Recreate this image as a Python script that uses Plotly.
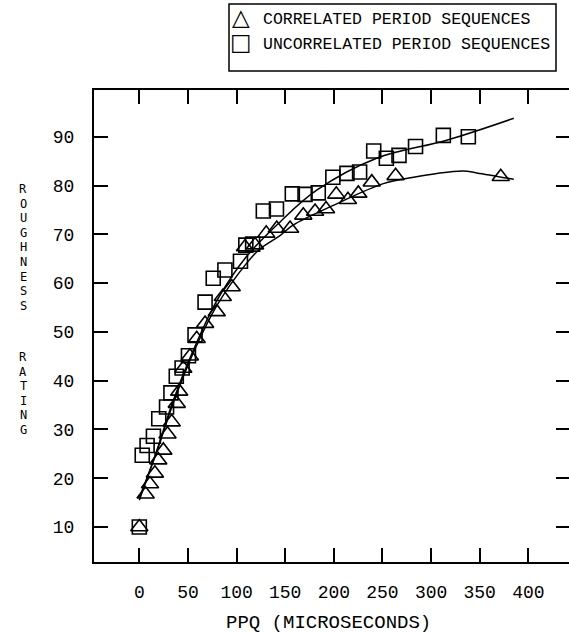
import plotly.graph_objects as go

# ---- data ----
corr_x = [0, 6.5, 11, 16, 19.5, 24.7, 29, 33.3, 38.5, 41, 45.2, 52, 59, 67.6, 79.6, 85.8, 95,
          108.7, 119, 130.5, 141.3, 155, 168.6, 180.7, 192, 202.5, 214.5, 225.2, 239, 263.5, 371.6]
corr_y = [10, 16.7, 18.8, 21, 23.7, 25.7, 29, 31.5, 35.3, 37.8, 42.5, 45, 48.6, 51.7, 54.1, 57.2, 59.2,
          67.4, 67.8, 70.2, 71.2, 71.2, 73.9, 74.7, 75.2, 78.2, 77.1, 78.4, 80.7, 82.0, 81.8]

unc_x = [0, 3, 8, 14.5, 20, 28, 32.5, 38, 44, 50.5, 57.3, 67.6, 76, 88, 104, 109.5, 116.5,
         127.5, 141, 157.3, 170.4, 184, 199, 213.5, 226.5, 241, 254, 267, 284, 312.6, 338.3]
unc_y = [10, 24.7, 26.7, 28.6, 32.2, 34.6, 37.5, 40.9, 42.6, 45.1, 49.4, 56.1, 61, 62.7, 64.5, 67.8, 68,
         74.8, 75.2, 78.3, 78.2, 78.5, 81.7, 82.5, 82.8, 87.1, 85.6, 86.2, 88, 90.3, 90]

# fitted curves as drawn in the reference
fit_unc_x = [0, 18, 35, 55, 80, 110, 145, 182, 244, 316, 385]
fit_unc_y = [15.5, 25.7, 36, 46, 56.5, 65.4, 72.6, 79, 85.6, 89.3, 93.8]
fit_corr_x = [0, 18, 35, 55, 80, 110, 124, 145, 158, 200, 251, 282, 306, 333, 347, 385]
fit_corr_y = [16, 25.5, 35.5, 45.5, 55.5, 64, 67, 69.8, 71.9, 76, 80.4, 81.7, 82.5, 83, 82.6, 81.3]

x_ticks = [0, 50, 100, 150, 200, 250, 300, 350, 400]
y_ticks = [10, 20, 30, 40, 50, 60, 70, 80, 90]

series_names = ["CORRELATED PERIOD SEQUENCES", "UNCORRELATED PERIOD SEQUENCES"]
legend_glyphs = ["\u25B3", "\u25A1"]

FONT = "Liberation Mono"
W, H = 569, 633
L, R, T, B = 94, 0, 90, 71
pw = W - L - R
ph = H - T - B


def px_x(px):
    return (px - L) / pw


def px_y(py):
    return (H - B - py) / ph


fig = go.Figure()
fig.add_trace(go.Scatter(x=fit_corr_x, y=fit_corr_y, mode="lines", line=dict(color="black", width=1.5, shape="spline"),
                         showlegend=False, hoverinfo="skip", yaxis="y2"))
fig.add_trace(go.Scatter(x=fit_unc_x, y=fit_unc_y, mode="lines", line=dict(color="black", width=1.5, shape="spline"),
                         showlegend=False, hoverinfo="skip", yaxis="y2"))
fig.add_trace(go.Scatter(x=corr_x, y=corr_y, mode="markers", name=series_names[0], showlegend=False,
                         marker=dict(symbol="triangle-up-open", size=15, color="black", line=dict(width=1.6))))
fig.add_trace(go.Scatter(x=unc_x, y=unc_y, mode="markers", name=series_names[1], showlegend=False,
                         marker=dict(symbol="square-open", size=14, color="black", line=dict(width=1.6))))

yr = [2.82, 99.6]
fig.update_layout(
    width=W, height=H, autosize=False,
    margin=dict(l=L, r=R, t=T, b=B, pad=0),
    paper_bgcolor="white", plot_bgcolor="white",
    font=dict(family=FONT, color="black", size=17),
    showlegend=False,
    xaxis=dict(range=[-46.6, 441.8], tickvals=x_ticks, ticks="inside", ticklen=14, tickwidth=1.5,
               tickcolor="black", showline=True, linewidth=2, linecolor="black", mirror="ticks",
               showgrid=False, zeroline=False, tickfont=dict(family=FONT, size=18), ticklabelstandoff=12),
    yaxis=dict(range=yr, tickvals=y_ticks, ticks="inside", ticklen=14, tickwidth=1.5, tickcolor="black",
               showline=True, linewidth=2, linecolor="black", showgrid=False, zeroline=False,
               tickfont=dict(family=FONT, size=18), ticklabelstandoff=14),
    yaxis2=dict(range=yr, tickvals=y_ticks, overlaying="y", side="right", ticks="inside", ticklen=13,
                tickwidth=1.5, tickcolor="black", showticklabels=False, showline=False, showgrid=False,
                zeroline=False),
)

# legend box drawn by hand (sits above the plot frame)
fig.add_shape(type="rect", xref="paper", yref="paper", x0=px_x(229), x1=px_x(556), y0=px_y(71), y1=px_y(4),
              line=dict(color="black", width=1.5), fillcolor="white")
for i, (glyph, name) in enumerate(zip(legend_glyphs, series_names)):
    row_y = 20 + i * 25
    fig.add_annotation(text=glyph, xref="paper", yref="paper", x=px_x(241), y=px_y(row_y - 3),
                       showarrow=False, xanchor="center", yanchor="middle",
                       font=dict(family="DejaVu Sans", size=23))
    fig.add_annotation(text=name, xref="paper", yref="paper", x=px_x(261), y=px_y(row_y),
                       showarrow=False, xanchor="left", yanchor="middle",
                       font=dict(family=FONT, size=16.5))

fig.add_annotation(text="PPQ (MICROSECONDS)", xref="paper", yref="paper", x=px_x(328),
                   y=px_y(623), showarrow=False, xanchor="center", yanchor="middle",
                   font=dict(family=FONT, size=19))

# vertical stacked y-axis title
pitch = 14.6
for word, start in (("ROUGHNESS", 189), ("RATING", 357)):
    for i, ch in enumerate(word):
        fig.add_annotation(text=ch, xref="paper", yref="paper", x=px_x(23), y=px_y(start + i * pitch),
                           showarrow=False, xanchor="center", yanchor="middle",
                           font=dict(family="DejaVu Sans Mono", size=12))

fig.write_html("out.html")
